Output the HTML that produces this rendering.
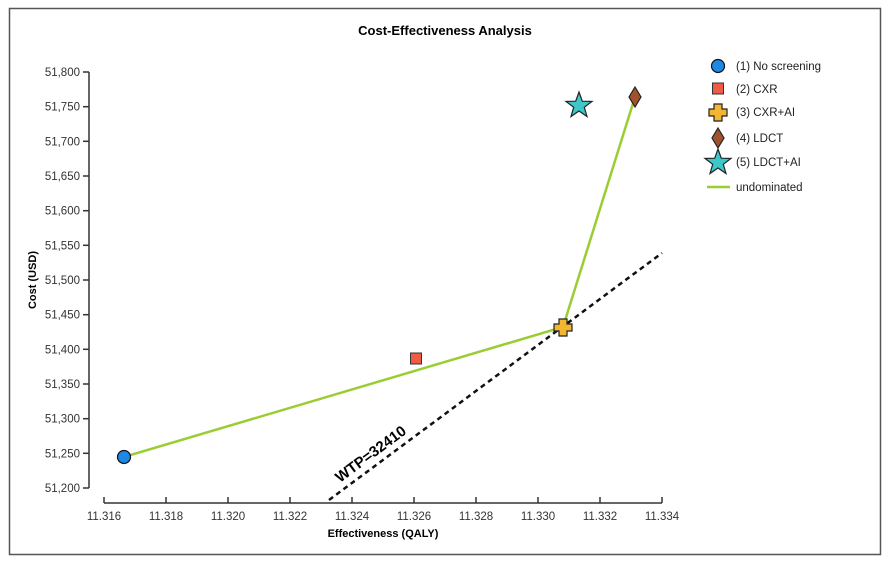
<!DOCTYPE html>
<html><head><meta charset="utf-8"><style>
body{margin:0;background:#fff;}
svg{display:block;font-family:"Liberation Sans",sans-serif;}
</style></head><body>
<svg width="890" height="566" viewBox="0 0 890 566">
<rect x="9.5" y="8.5" width="871" height="546" fill="#fff" stroke="#555" stroke-width="1.5"/>
<text x="445" y="35" text-anchor="middle" font-size="13" font-weight="bold">Cost-Effectiveness Analysis</text>
<g stroke="#333" stroke-width="1.5">
<line x1="89" y1="72" x2="89" y2="488"/>
<line x1="104" y1="503" x2="662" y2="503"/>
</g>
<g font-size="11.5" fill="#333" text-anchor="end">
<g stroke="#333" stroke-width="1.5">
<line x1="83" y1="72" x2="89" y2="72"/><line x1="83" y1="106.7" x2="89" y2="106.7"/><line x1="83" y1="141.3" x2="89" y2="141.3"/><line x1="83" y1="176" x2="89" y2="176"/><line x1="83" y1="210.7" x2="89" y2="210.7"/><line x1="83" y1="245.3" x2="89" y2="245.3"/><line x1="83" y1="280" x2="89" y2="280"/><line x1="83" y1="314.7" x2="89" y2="314.7"/><line x1="83" y1="349.3" x2="89" y2="349.3"/><line x1="83" y1="384" x2="89" y2="384"/><line x1="83" y1="418.7" x2="89" y2="418.7"/><line x1="83" y1="453.3" x2="89" y2="453.3"/><line x1="83" y1="488" x2="89" y2="488"/>
</g>
<text x="80" y="76">51,800</text><text x="80" y="110.7">51,750</text><text x="80" y="145.3">51,700</text><text x="80" y="180">51,650</text><text x="80" y="214.7">51,600</text><text x="80" y="249.3">51,550</text><text x="80" y="284">51,500</text><text x="80" y="318.7">51,450</text><text x="80" y="353.3">51,400</text><text x="80" y="388">51,350</text><text x="80" y="422.7">51,300</text><text x="80" y="457.3">51,250</text><text x="80" y="492">51,200</text>
</g>
<g font-size="11.5" fill="#333" text-anchor="middle">
<g stroke="#333" stroke-width="1.5">
<line x1="104" y1="497" x2="104" y2="503"/><line x1="166" y1="497" x2="166" y2="503"/><line x1="228" y1="497" x2="228" y2="503"/><line x1="290" y1="497" x2="290" y2="503"/><line x1="352" y1="497" x2="352" y2="503"/><line x1="414" y1="497" x2="414" y2="503"/><line x1="476" y1="497" x2="476" y2="503"/><line x1="538" y1="497" x2="538" y2="503"/><line x1="600" y1="497" x2="600" y2="503"/><line x1="662" y1="497" x2="662" y2="503"/>
</g>
<text x="104" y="520">11.316</text><text x="166" y="520">11.318</text><text x="228" y="520">11.320</text><text x="290" y="520">11.322</text><text x="352" y="520">11.324</text><text x="414" y="520">11.326</text><text x="476" y="520">11.328</text><text x="538" y="520">11.330</text><text x="600" y="520">11.332</text><text x="662" y="520">11.334</text>
</g>
<text x="383" y="537" text-anchor="middle" font-size="11" font-weight="bold">Effectiveness (QALY)</text>
<text transform="translate(36,280) rotate(-90)" text-anchor="middle" font-size="11" font-weight="bold">Cost (USD)</text>
<line x1="329" y1="500" x2="662" y2="253" stroke="#111" stroke-width="2.5" stroke-dasharray="5,4"/>
<text transform="translate(340,483) rotate(-36.6)" font-size="15" font-weight="bold">WTP=32410</text>
<polyline points="124,457 563,327 635,97" fill="none" stroke="#9ACD32" stroke-width="2.5"/>
<circle cx="124" cy="457" r="6.5" fill="#1E88E5" stroke="#111" stroke-width="1.2"/>
<rect x="410.5" y="353" width="11" height="11" fill="#EF5B45" stroke="#333" stroke-width="1"/>
<path d="M559,319h8v5h5v7h-5v5h-8v-5h-5v-7h5z" fill="#F2B630" stroke="#222" stroke-width="1.2"/>
<path d="M635,87 L641,97 L635,107 L629,97 Z" fill="#A0522D" stroke="#222" stroke-width="1.2"/>
<path d="M579,92 L582.3,101.2 L592,101.4 L584.3,107.3 L587,116.5 L579,111 L571,116.5 L573.7,107.3 L566,101.4 L575.7,101.2 Z" fill="#3CC8C8" stroke="#222" stroke-width="1.2"/>
<g font-size="11.5" fill="#222">
<circle cx="718" cy="66" r="6.5" fill="#1E88E5" stroke="#111" stroke-width="1.2"/><text x="736" y="70">(1) No screening</text>
<rect x="712.5" y="83" width="11" height="11" fill="#EF5B45" stroke="#333"/><text x="736" y="93">(2) CXR</text>
<path d="M714,104h8v5h5v7h-5v5h-8v-5h-5v-7h5z" fill="#F2B630" stroke="#222" stroke-width="1.2"/><text x="736" y="116">(3) CXR+AI</text>
<path d="M718,128 L724,138 L718,148 L712,138 Z" fill="#A0522D" stroke="#222" stroke-width="1.2"/><text x="736" y="142">(4) LDCT</text>
<path d="M718,149 L721.3,158.2 L731,158.4 L723.3,164.3 L726,173.5 L718,168 L710,173.5 L712.7,164.3 L705,158.4 L714.7,158.2 Z" fill="#3CC8C8" stroke="#222" stroke-width="1.2"/><text x="736" y="166">(5) LDCT+AI</text>
<line x1="707" y1="187" x2="730" y2="187" stroke="#9ACD32" stroke-width="2.5"/><text x="736" y="191">undominated</text>
</g>
</svg>
</body></html>
